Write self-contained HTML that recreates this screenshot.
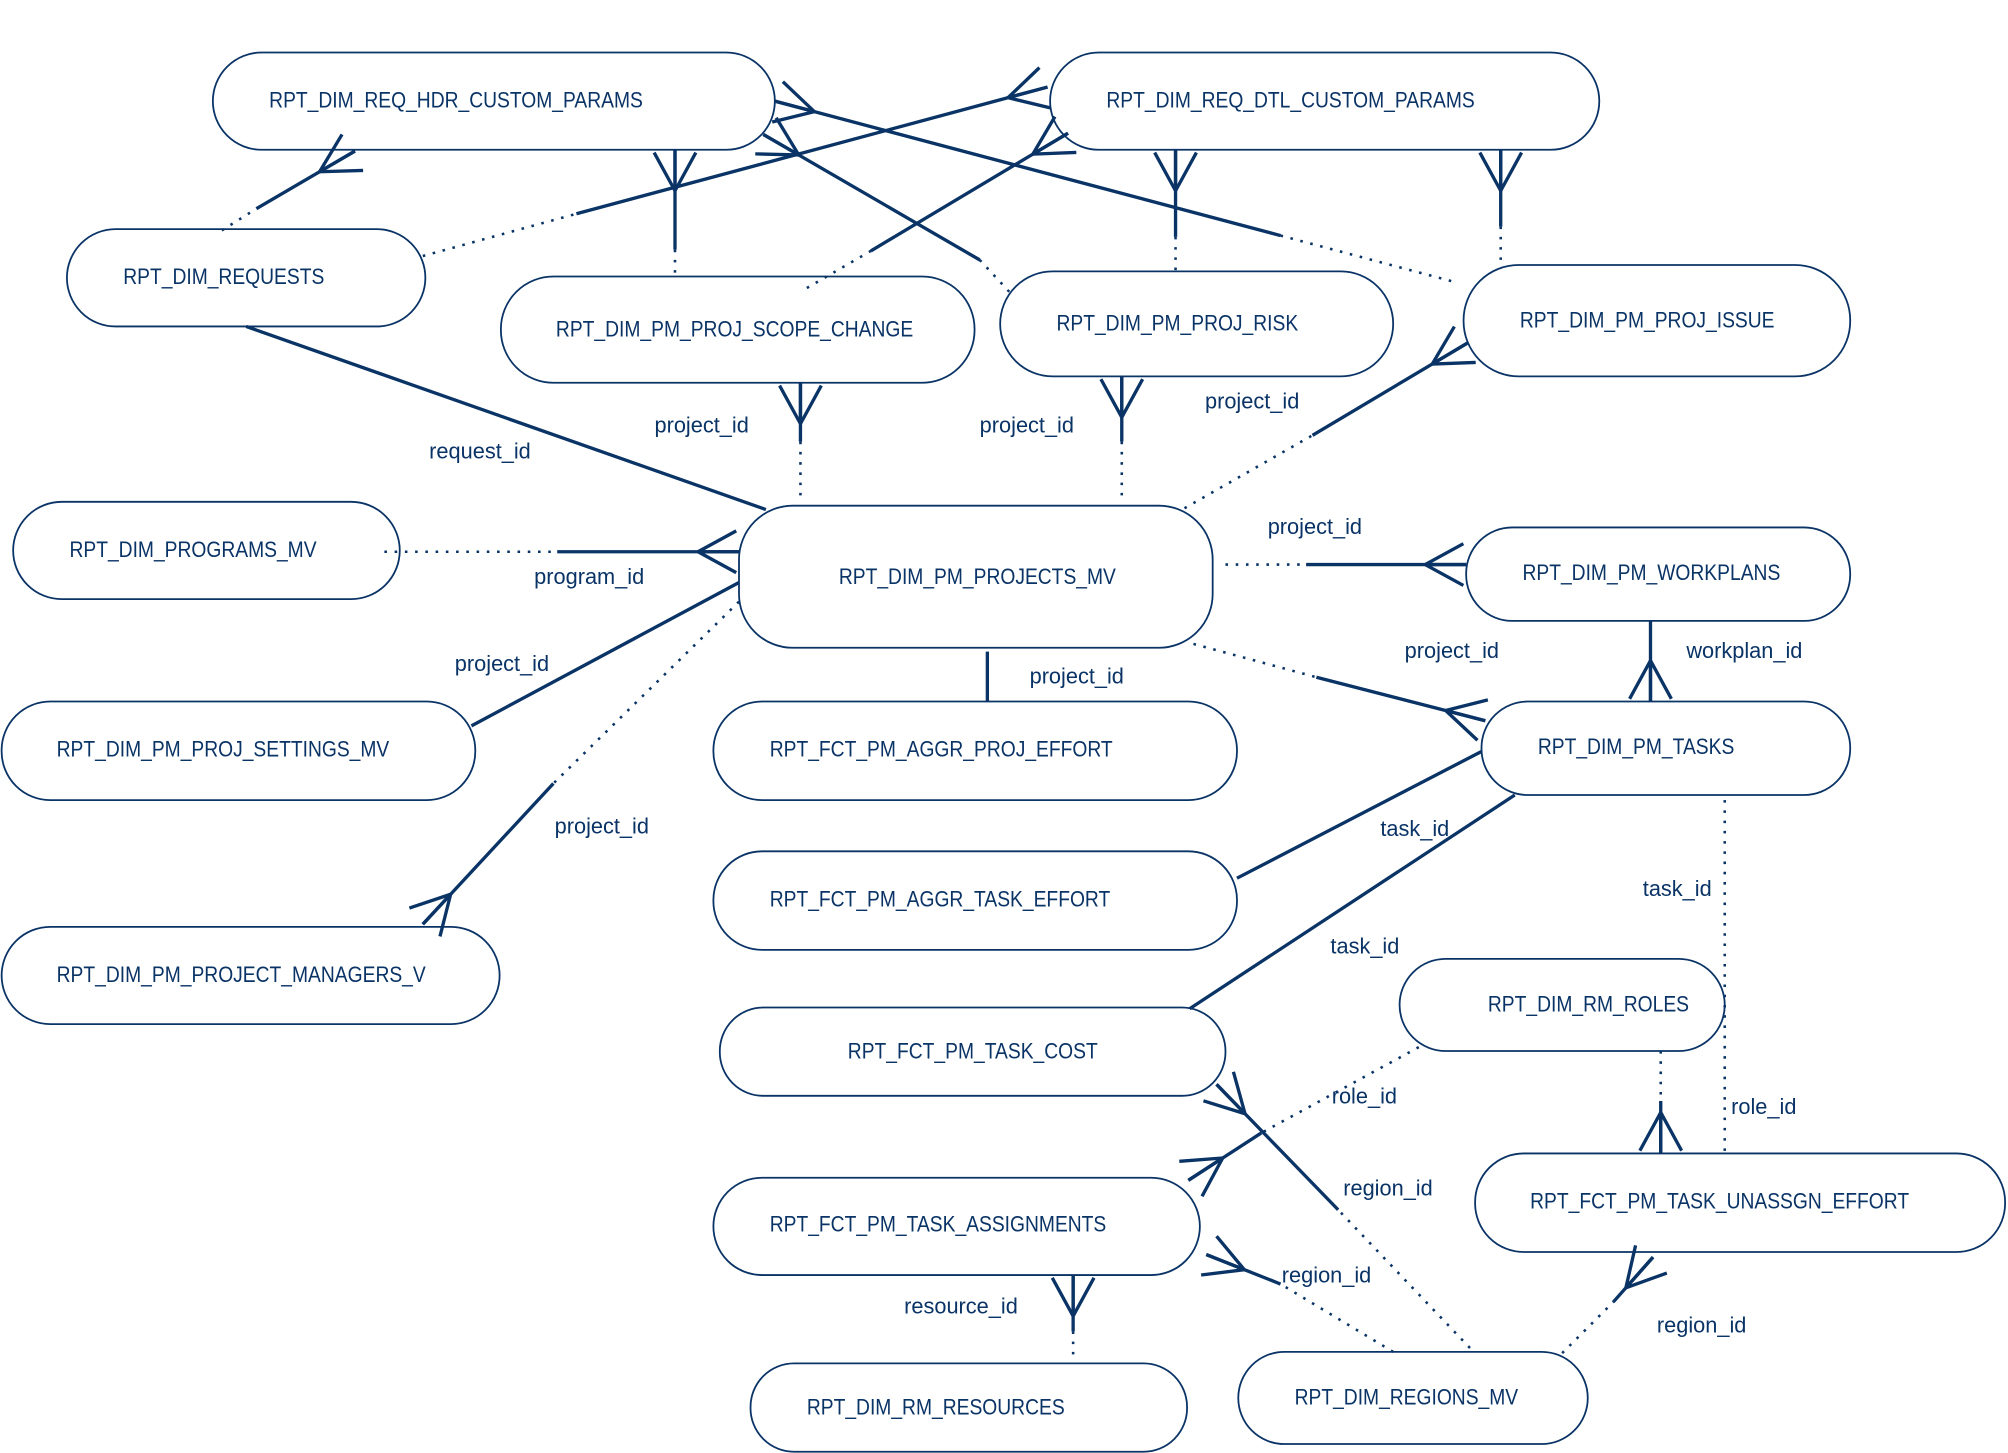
<!DOCTYPE html>
<html><head><meta charset="utf-8"><style>
html,body{margin:0;padding:0;background:#fff;}
svg{display:block;}
text{font-family:"Liberation Sans",sans-serif;font-size:17px;fill:#0a3366;}
</style></head><body>
<svg id="s" width="2008" height="1453" viewBox="0 0 1568 1135" xmlns="http://www.w3.org/2000/svg">
<g fill="#fff" stroke="#0a3366" stroke-width="1.4">
<rect x="166" y="41" width="439" height="76" rx="38"/>
<rect x="820" y="41" width="429" height="76" rx="38"/>
<rect x="52" y="179" width="280" height="76" rx="38"/>
<rect x="391" y="216" width="370" height="83" rx="41"/>
<rect x="781" y="212" width="307" height="82" rx="41"/>
<rect x="1143" y="207" width="302" height="87" rx="43"/>
<rect x="10" y="392" width="302" height="76" rx="38"/>
<rect x="577" y="395" width="370" height="111" rx="42"/>
<rect x="1145" y="412" width="300" height="73" rx="36"/>
<rect x="1" y="548" width="370" height="77" rx="38"/>
<rect x="557" y="548" width="409" height="77" rx="38"/>
<rect x="1157" y="548" width="288" height="73" rx="36"/>
<rect x="557" y="665" width="409" height="77" rx="38"/>
<rect x="1" y="724" width="389" height="76" rx="38"/>
<rect x="1093" y="749" width="254" height="72" rx="36"/>
<rect x="562" y="787" width="395" height="69" rx="34"/>
<rect x="557" y="920" width="380" height="76" rx="38"/>
<rect x="1152" y="901" width="414" height="77" rx="38"/>
<rect x="586" y="1065" width="341" height="69" rx="34"/>
<rect x="967" y="1056" width="273" height="72" rx="36"/>
</g>
<g id="lines" stroke="#0a3366" fill="none"></g>
<g id="names">
<text x="210" y="84">RPT_DIM_REQ_HDR_CUSTOM_PARAMS</text>
<text x="864" y="84">RPT_DIM_REQ_DTL_CUSTOM_PARAMS</text>
<text x="96" y="222">RPT_DIM_REQUESTS</text>
<text x="434" y="263">RPT_DIM_PM_PROJ_SCOPE_CHANGE</text>
<text x="825" y="258">RPT_DIM_PM_PROJ_RISK</text>
<text x="1187" y="256">RPT_DIM_PM_PROJ_ISSUE</text>
<text x="54" y="435">RPT_DIM_PROGRAMS_MV</text>
<text x="655" y="456">RPT_DIM_PM_PROJECTS_MV</text>
<text x="1189" y="453">RPT_DIM_PM_WORKPLANS</text>
<text x="44" y="591">RPT_DIM_PM_PROJ_SETTINGS_MV</text>
<text x="601" y="591">RPT_FCT_PM_AGGR_PROJ_EFFORT</text>
<text x="1201" y="589">RPT_DIM_PM_TASKS</text>
<text x="601" y="708">RPT_FCT_PM_AGGR_TASK_EFFORT</text>
<text x="44" y="767">RPT_DIM_PM_PROJECT_MANAGERS_V</text>
<text x="1162" y="790">RPT_DIM_RM_ROLES</text>
<text x="662" y="827">RPT_FCT_PM_TASK_COST</text>
<text x="601" y="962">RPT_FCT_PM_TASK_ASSIGNMENTS</text>
<text x="1195" y="944">RPT_FCT_PM_TASK_UNASSGN_EFFORT</text>
<text x="630" y="1105">RPT_DIM_RM_RESOURCES</text>
<text x="1011" y="1097">RPT_DIM_REGIONS_MV</text>
</g>
<g>
<text x="335" y="358">request_id</text>
<text x="511" y="338">project_id</text>
<text x="765" y="338">project_id</text>
<text x="941" y="319">project_id</text>
<text x="417" y="456">program_id</text>
<text x="990" y="417">project_id</text>
<text x="355" y="524">project_id</text>
<text x="804" y="534">project_id</text>
<text x="1097" y="514">project_id</text>
<text x="1317" y="514">workplan_id</text>
<text x="433" y="651">project_id</text>
<text x="1078" y="653">task_id</text>
<text x="1283" y="700">task_id</text>
<text x="1039" y="745">task_id</text>
<text x="1040" y="862">role_id</text>
<text x="1352" y="870">role_id</text>
<text x="1049" y="934">region_id</text>
<text x="1001" y="1002">region_id</text>
<text x="706" y="1026">resource_id</text>
<text x="1294" y="1041">region_id</text>
</g>
</svg>
<script>
var ts=document.querySelectorAll('#names text');
for(var i=0;i<ts.length;i++){var w=ts[i].getComputedTextLength();ts[i].setAttribute('textLength',(w*0.885).toFixed(1));ts[i].setAttribute('lengthAdjust','spacingAndGlyphs');}
var g=document.getElementById('lines'),NS='http://www.w3.org/2000/svg';
function ln(a,b,c,d,dot){var l=document.createElementNS(NS,'line');l.setAttribute('x1',a);l.setAttribute('y1',b);l.setAttribute('x2',c);l.setAttribute('y2',d);
l.setAttribute('stroke-width',dot?2:2.6);if(dot)l.setAttribute('stroke-dasharray','2 6');g.appendChild(l);}
function crow(ex,ey,ox,oy){var dx=ox-ex,dy=oy-ey,L=Math.hypot(dx,dy);dx/=L;dy/=L;var vx=ex+dx*32,vy=ey+dy*32;
var a=Math.atan2(-dy,-dx),s=0.5,R=34;
ln(vx,vy,vx+R*Math.cos(a+s),vy+R*Math.sin(a+s));ln(vx,vy,vx+R*Math.cos(a-s),vy+R*Math.sin(a-s));ln(vx,vy,ex,ey);}
function c(s,d,cr){if(s)ln(s[0],s[1],s[2],s[3]);if(d)ln(d[0],d[1],d[2],d[3],1);if(cr)crow(cr[0],cr[1],cr[2],cr[3]);}
c([200,163,277,118],[173,180,200,163],[277,118,200,163]);
c([450,167,818,68],[330,200,450,167],[818,68,450,167]);
c([527,117,527,195],[527,195,527,218],[527,117,527,195]);
c([680,196,834,104],[630,225,680,196],[834,104,680,196]);
c([596,105,765,203],[765,203,790,230],[596,105,765,203]);
c([918,117,918,185],[918,185,918,212],[918,117,918,185]);
c([605,79,1000,184],[1000,184,1135,220],[605,79,1000,184]);
c([1172,117,1172,177],[1172,177,1172,207],[1172,117,1172,177]);
c([625,299,625,345],[625,345,625,393],[625,299,625,345]);
c([876,294,876,345],[876,345,876,390],[876,294,876,345]);
c([1025,340,1146,268],[925,397,1025,340],[1146,268,1025,340]);
c([192,255,598,398]);
c([435,431,577,431],[300,431,435,431],[577,431,435,431]);
c([368,567,577,455]);
c([432,612,330,722],[577,470,432,612],[330,722,432,612]);
c([1020,441,1145,441],[957,441,1020,441],[1145,441,1020,441]);
c([771,509,771,548]);
c([1028,529,1160,563],[932,503,1028,529],[1160,563,1028,529]);
c([1289,485,1289,548],null,[1289,548,1289,485]);
c([966,686,1157,587]);
c([929,788,1183,621]);
c(null,[1347,625,1347,901]);
c([1297,860,1297,901],[1297,821,1297,860],[1297,901,1297,860]);
c([985,885,928,922],[1108,818,985,885],[928,922,985,885]);
c([1045,945,950,847],[1148,1053,1045,945],[950,847,1045,945]);
c([1000,1003,942,980],[1088,1056,1000,1003],[942,980,1000,1003]);
c([1260,1017,1291,982],[1220,1057,1260,1017],[1291,982,1260,1017]);
c([838,996,838,1040],[838,1040,838,1063],[838,996,838,1040]);
</script>
</body></html>
